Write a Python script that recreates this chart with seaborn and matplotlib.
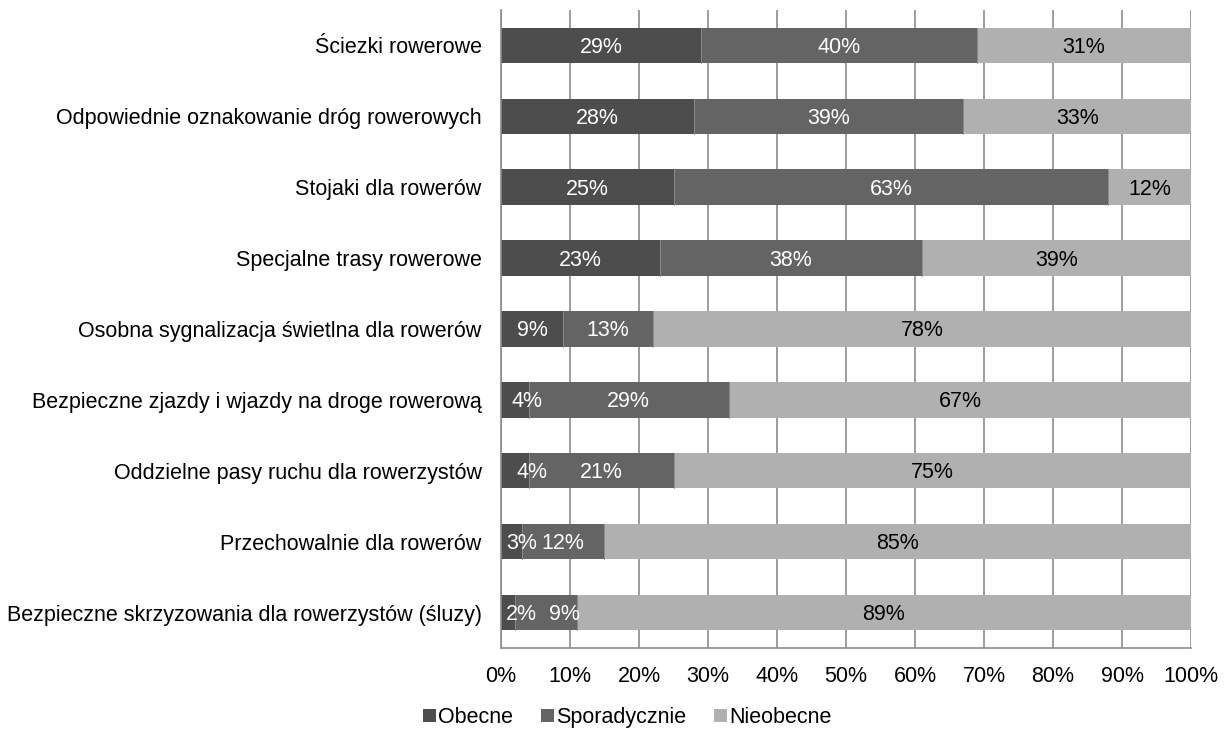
import numpy as np
import pandas as pd
import matplotlib
matplotlib.use("Agg")
import matplotlib.pyplot as plt
import matplotlib.transforms as mtransforms
from matplotlib.patches import Patch
import seaborn as sns

categories = [
    "Ściezki rowerowe",
    "Odpowiednie oznakowanie dróg rowerowych",
    "Stojaki dla rowerów",
    "Specjalne trasy rowerowe",
    "Osobna sygnalizacja świetlna dla rowerów",
    "Bezpieczne zjazdy i wjazdy na droge rowerową",
    "Oddzielne pasy ruchu dla rowerzystów",
    "Przechowalnie dla rowerów",
    "Bezpieczne skrzyzowania dla rowerzystów (śluzy)",
]
obecne = [29, 28, 25, 23, 9, 4, 4, 3, 2]
sporadycznie = [40, 39, 63, 38, 13, 29, 21, 12, 9]
nieobecne = [31, 33, 12, 39, 78, 67, 75, 85, 89]
series_names = ["Obecne", "Sporadycznie", "Nieobecne"]
xticks = list(range(0, 101, 10))

# label nudges (layout only): (series index, row) -> label x in axis units
label_nudge = {(0, 5): 3.8, (0, 6): 4.5, (0, 7): 3.0, (0, 8): 2.9, (1, 8): 9.2}

colors = ["#4d4d4d", "#646464", "#b0b0b0"]
text_colors = ["white", "white", "black"]

sns.set_theme(style="white")
plt.rcParams["font.family"] = ["Liberation Sans", "DejaVu Sans"]
plt.rcParams["text.color"] = "black"
plt.rcParams["xtick.color"] = "black"
plt.rcParams["ytick.color"] = "black"
FS = 15.5

fig = plt.figure(figsize=(12.27, 7.33), dpi=100)
ax = fig.add_axes([0.4083, 0.116, 0.5624, 0.8704])

vals = np.array([obecne, sporadycznie, nieobecne], dtype=float)
cum = np.cumsum(vals, axis=0)

for i in [2, 1, 0]:
    df = pd.DataFrame({"cat": categories, "val": cum[i]})
    sns.barplot(data=df, x="val", y="cat", orient="h", color=colors[i],
                saturation=1, width=0.5, ax=ax, edgecolor="none", linewidth=0)

# thin separators between segments
for i in [0, 1]:
    for j in range(len(categories)):
        ax.plot([cum[i][j], cum[i][j]], [j - 0.25, j + 0.25], color="#8a8a8a",
                lw=0.7, zorder=3)

offset = mtransforms.ScaledTranslation(0, -2 / 100, fig.dpi_scale_trans)
for i in range(3):
    start = cum[i] - vals[i]
    for j in range(len(categories)):
        x = label_nudge.get((i, j), start[j] + vals[i][j] / 2)
        ax.text(x, j, f"{int(vals[i][j])}%", ha="center", va="center",
                color=text_colors[i], fontsize=FS, zorder=4,
                transform=ax.transData + offset)

ax.set_xlim(0, 100)
ax.set_ylim(len(categories) - 0.5, -0.5)
ax.set_xticks(xticks)
ax.set_xticklabels([f"{t}%" for t in xticks], fontsize=FS)
ax.set_yticks(range(len(categories)))
ax.set_yticklabels(categories, fontsize=FS)
for lbl in ax.get_yticklabels():
    lbl.set_transform(lbl.get_transform() + mtransforms.ScaledTranslation(0, -3 / 100, fig.dpi_scale_trans))
ax.set_yticks(np.arange(-0.5, len(categories)), minor=True)
ax.tick_params(axis="y", which="major", length=0, pad=14)
ax.tick_params(axis="y", which="minor", length=5, color="#888888", width=1.2, direction="out")
ax.tick_params(axis="x", which="major", length=6, color="#888888", width=1.2, direction="out", pad=7)
ax.set_xlabel("")
ax.set_ylabel("")

ax.set_axisbelow(True)
ax.xaxis.grid(True, color="#8c8c8c", linewidth=1.2)
ax.yaxis.grid(False)
for s in ["top", "right"]:
    ax.spines[s].set_visible(False)
for s in ["left", "bottom"]:
    ax.spines[s].set_color("#8c8c8c")
    ax.spines[s].set_linewidth(1.2)

handles = [Patch(facecolor=c, edgecolor="none") for c in colors]
fig.legend(handles, series_names, loc="center", bbox_to_anchor=(0.511, 0.021),
           ncol=3, frameon=False, fontsize=FS, handlelength=0.6, handleheight=0.6,
           handletextpad=0.1, columnspacing=1.3)

fig.savefig("out.png", dpi=100)
